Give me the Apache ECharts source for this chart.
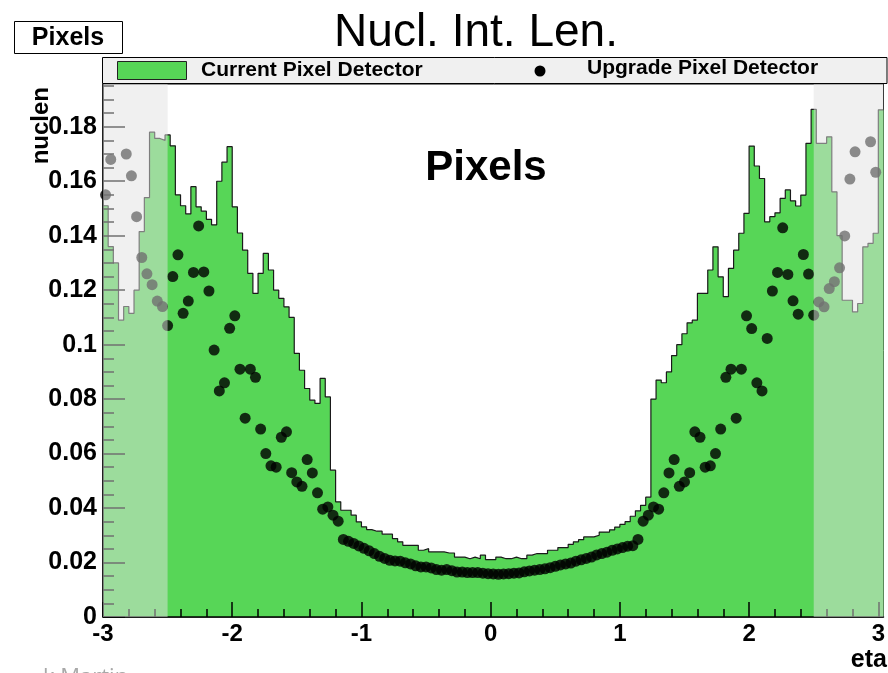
<!DOCTYPE html>
<html>
<head>
<meta charset="utf-8">
<script src="https://cdn.jsdelivr.net/npm/echarts@6/dist/echarts.min.js"></script>
<style>
html,body{margin:0;padding:0;background:#fff;}
#chart{width:888px;height:673px;}
</style>
</head>
<body>
<div id="chart"></div>
<script>
// ---- data ----
const binStart = -3.0;
const binWidth = 0.04;
const currentValues = [
0.151,0.136,0.130,0.109,0.114,0.1115,0.120,0.1415,0.154,0.178,
0.1757,0.175,0.177,0.173,0.155,0.151,0.148,0.158,0.1506,0.149,
0.146,0.144,0.160,0.167,0.1727,0.1506,0.141,0.1347,0.1262,0.1188,
0.1262,0.1335,0.1274,0.120,0.117,0.1139,0.110,0.0968,0.0906,0.0839,
0.0796,0.0784,0.0876,0.0808,0.0539,0.0423,0.0392,0.0392,0.0374,0.0349,
0.0331,0.0321,0.0315,0.0315,0.0304,0.0304,0.0288,0.0276,0.0263,0.0263,
0.0263,0.0245,0.0251,0.0239,0.0239,0.0239,0.0235,0.0235,0.0220,0.0220,
0.0214,0.0220,0.0214,0.0227,0.0211,0.0211,0.0220,0.0214,0.0214,0.0220,
0.0214,0.0214,0.0227,0.0233,0.0233,0.0233,0.0245,0.0245,0.0255,0.0255,
0.0267,0.0276,0.0284,0.0294,0.0294,0.0300,0.0312,0.0312,0.032,0.033,
0.034,0.035,0.037,0.039,0.041,0.044,0.080,0.087,0.086,0.090,
0.096,0.100,0.104,0.108,0.109,0.1188,0.1188,0.1274,0.1359,0.1249,
0.1176,0.128,0.1347,0.1409,0.1482,0.1729,0.1656,0.161,0.1451,0.147,
0.1484,0.1537,0.1568,0.1528,0.1509,0.1549,0.1739,0.1864,0.1739,0.1739,
0.1763,0.1561,0.140,0.1163,0.1163,0.112,0.1151,0.1359,0.1372,0.1409,
0.1862
];
const upgradeValues = [
0.155,0.168,null,null,0.170,0.162,0.147,0.132,0.126,0.122,
0.116,0.114,0.107,0.125,0.133,0.1115,0.116,0.1265,0.1436,0.1267,
0.1197,0.098,0.083,0.086,0.106,0.1106,0.091,0.073,0.091,0.088,
0.069,0.060,0.0555,0.055,0.066,0.068,0.053,0.0496,0.048,0.0578,
0.0529,0.0456,0.0396,0.0404,0.0374,0.0352,0.0285,0.0278,0.0270,0.0261,
0.0252,0.0243,0.0233,0.0223,0.0215,0.0208,0.0206,0.0205,0.0199,0.0195,
0.0188,0.0184,0.0184,0.0180,0.0174,0.0172,0.0174,0.0170,0.0165,0.0165,
0.0163,0.0163,0.0163,0.0161,0.0159,0.0158,0.0157,0.0158,0.0159,0.0161,
0.0162,0.0166,0.0169,0.0172,0.0174,0.0177,0.0181,0.0186,0.0191,0.0195,
0.0198,0.0205,0.0210,0.0215,0.0220,0.0228,0.0233,0.0238,0.0245,0.0250,
0.0255,0.0260,0.0262,0.0285,0.0352,0.0374,0.0404,0.0396,0.0456,0.0529,
0.0578,0.048,0.0496,0.053,0.068,0.066,0.055,0.0555,0.060,0.069,
0.088,0.091,0.073,0.091,0.1106,0.1059,0.086,0.083,0.1023,0.1197,
0.1265,0.1429,0.1258,0.1161,0.1112,0.1331,0.1259,0.1108,0.1157,0.1139,
0.1206,0.1231,0.1282,0.1399,0.1608,0.1708,null,null,0.1745,0.1633
];
const xMajorTicks = [-3,-2,-1,0,1,2,3];
const yMajorTicks = [0,0.02,0.04,0.06,0.08,0.1,0.12,0.14,0.16,0.18];
const shadedRanges = [[-3,-2.5],[2.5,3.04]];
const xMin = -3, xMax = 3.04, yMin = 0, yMax = 0.1957;

// ---- derived ----
const xMinorTicks = [];
for (let i = 0; i <= 30; i++) { const t = +(-3 + i*0.2).toFixed(2); if (Math.abs(t - Math.round(t)) > 1e-6) xMinorTicks.push(t); }
const yMinorTicks = [];
for (let i = 1; i <= 39; i++) { const t = +(i*0.005).toFixed(3); if (i % 4 !== 0) yMinorTicks.push(t); }

const histData = currentValues.map((v,i)=>[+(binStart + i*binWidth).toFixed(3), v]);
histData.push([+(binStart + currentValues.length*binWidth).toFixed(3), currentValues[currentValues.length-1]]);
const upgradeData = [];
upgradeValues.forEach((v,i)=>{ if (v !== null) upgradeData.push([+(binStart + (i+0.5)*binWidth).toFixed(3), v]); });

const FONT = "'Liberation Sans', Arial, Helvetica, sans-serif";
const GREEN = '#57d657';

const chart = echarts.init(document.getElementById('chart'), null, {renderer:'canvas'});
chart.setOption({
  animation: false,
  backgroundColor: '#fff',
  grid: { left: 103, right: 1, top: 84, bottom: 56, show: true, borderColor: '#000', borderWidth: 1, backgroundColor: 'transparent' },
  xAxis: [{
    type: 'value', min: xMin, max: xMax, z: 5,
    axisLine: { show: true, onZero: false, lineStyle: { color: '#000', width: 1.5 } },
    axisTick: { show: true, inside: true, length: 15, customValues: xMajorTicks, lineStyle: { color: '#000', width: 1.5 } },
    axisLabel: { customValues: xMajorTicks, color: '#000', fontFamily: FONT, fontWeight: 'bold', fontSize: 24, margin: 5 },
    splitLine: { show: false }
  },{
    type: 'value', min: xMin, max: xMax, z: 5, position: 'bottom',
    axisLine: { show: false, onZero: false },
    axisTick: { show: true, inside: true, length: 8, customValues: xMinorTicks, lineStyle: { color: '#000', width: 1.5 } },
    axisLabel: { show: false },
    splitLine: { show: false }
  }],
  yAxis: [{
    type: 'value', min: yMin, max: yMax, z: 5,
    axisLine: { show: true, onZero: false, lineStyle: { color: '#000', width: 1.5 } },
    axisTick: { show: true, inside: true, length: 22, customValues: yMajorTicks, lineStyle: { color: '#000', width: 1.5 } },
    axisLabel: { customValues: yMajorTicks, color: '#000', fontFamily: FONT, fontWeight: 'bold', fontSize: 25, margin: 6,
      formatter: v => String(+(+v).toFixed(3)) },
    splitLine: { show: false }
  },{
    type: 'value', min: yMin, max: yMax, z: 5, position: 'left',
    axisLine: { show: false, onZero: false },
    axisTick: { show: true, inside: true, length: 11, customValues: yMinorTicks, lineStyle: { color: '#000', width: 1.5 } },
    axisLabel: { show: false },
    splitLine: { show: false }
  }],
  series: [{
    name: 'Current Pixel Detector', type: 'line', step: 'end', data: histData, z: 2,
    xAxisIndex: 0, yAxisIndex: 0,
    symbol: 'none', lineStyle: { color: '#1a1a1a', width: 1.2 },
    areaStyle: { color: GREEN, opacity: 1 }
  },{
    name: 'Upgrade Pixel Detector', type: 'scatter', data: upgradeData, z: 3,
    xAxisIndex: 0, yAxisIndex: 0,
    symbol: 'circle', symbolSize: 11, itemStyle: { color: '#000' }
  },{
    type: 'custom', z: 10, data: shadedRanges, xAxisIndex: 0, yAxisIndex: 0,
    encode: { x: [0,1] }, silent: true,
    renderItem: function(params, api) {
      const p1 = api.coord([api.value(0), yMax]);
      const p2 = api.coord([api.value(1), yMin]);
      return { type: 'rect', shape: { x: p1[0], y: p1[1], width: p2[0]-p1[0], height: p2[1]-p1[1] },
        style: { fill: 'rgba(225,225,225,0.5)' } };
    }
  }],
  graphic: [
    { type: 'text', x: 476, y: 33, style: { text: 'Nucl. Int. Len.', font: "46px 'Liberation Sans', Arial, sans-serif", fill: '#000', align: 'center', verticalAlign: 'middle' } },
    { type: 'rect', x: 0, y: 0, shape: { x: 14.5, y: 21.5, width: 108, height: 32 }, style: { fill: '#fff', stroke: '#000', lineWidth: 1 } },
    { type: 'text', x: 68, y: 38, style: { text: 'Pixels', font: "bold 25px 'Liberation Sans', Arial, sans-serif", fill: '#000', align: 'center', verticalAlign: 'middle' } },
    { type: 'rect', x: 0, y: 0, z: 20, shape: { x: 102.5, y: 57.5, width: 784.5, height: 26 }, style: { fill: '#f0f0f0', stroke: '#000', lineWidth: 1 } },
    { type: 'rect', x: 0, y: 0, z: 21, shape: { x: 117.5, y: 61.5, width: 69, height: 18 }, style: { fill: GREEN, stroke: '#222', lineWidth: 1 } },
    { type: 'text', x: 201, y: 70.5, z: 21, style: { text: 'Current Pixel Detector', font: "bold 21px 'Liberation Sans', Arial, sans-serif", fill: '#000', align: 'left', verticalAlign: 'middle' } },
    { type: 'circle', x: 0, y: 0, z: 21, shape: { cx: 540, cy: 71, r: 5.5 }, style: { fill: '#000' } },
    { type: 'text', x: 587, y: 68, z: 21, style: { text: 'Upgrade Pixel Detector', font: "bold 21px 'Liberation Sans', Arial, sans-serif", fill: '#000', align: 'left', verticalAlign: 'middle' } },
    { type: 'text', x: 486, y: 168, z: 21, style: { text: 'Pixels', font: "bold 42px 'Liberation Sans', Arial, sans-serif", fill: '#000', align: 'center', verticalAlign: 'middle' } },
    { type: 'text', x: 887, y: 660, z: 21, style: { text: 'eta', font: "bold 25px 'Liberation Sans', Arial, sans-serif", fill: '#000', align: 'right', verticalAlign: 'middle' } },
    { type: 'text', x: 41, y: 87, rotation: Math.PI/2, z: 21, style: { text: 'nuclen', font: "bold 24px 'Liberation Sans', Arial, sans-serif", fill: '#000', align: 'right', verticalAlign: 'middle' } },
    { type: 'text', x: 43, y: 667, z: 21, style: { text: 'k Martin', font: "22px 'Open Sans', sans-serif", fill: '#a8a8a8', align: 'left', verticalAlign: 'top' } }
  ]
});
</script>
</body>
</html>
